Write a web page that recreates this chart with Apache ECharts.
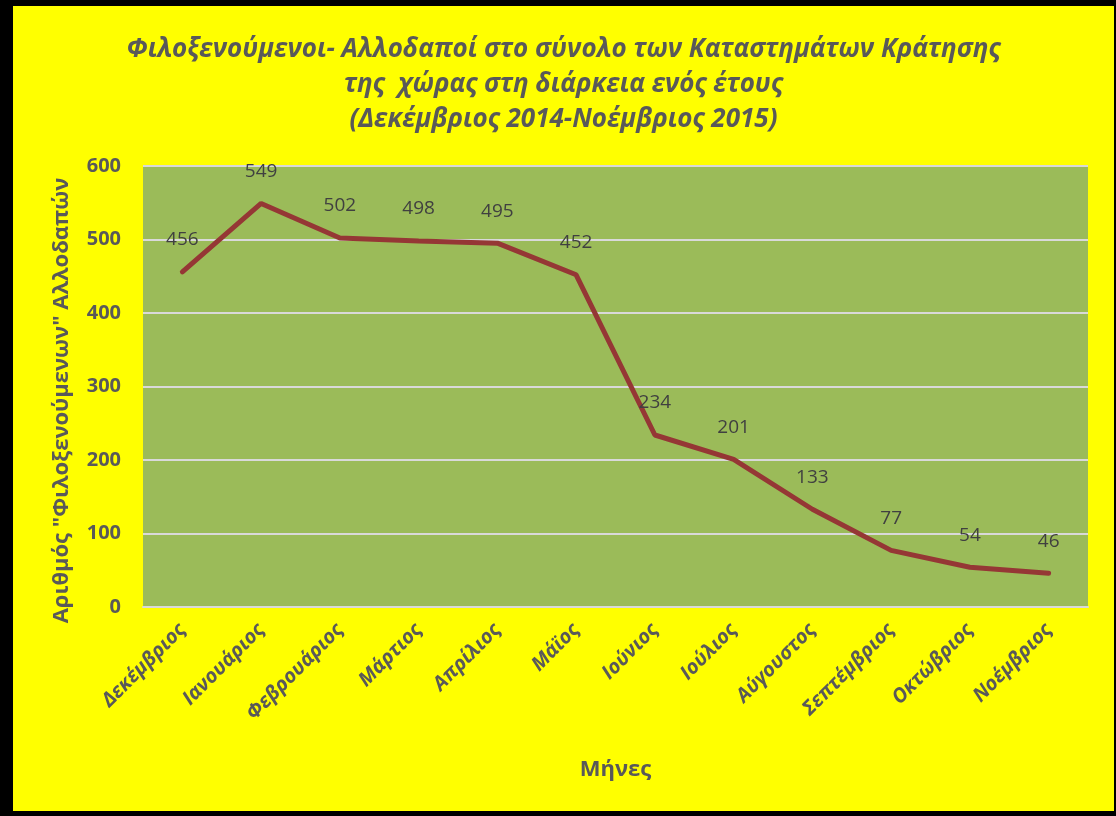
<!DOCTYPE html>
<html>
<head>
<meta charset="utf-8">
<script src="https://cdn.jsdelivr.net/npm/echarts@6/dist/echarts.min.js"></script>
<style>
  html, body {
    margin: 0;
    padding: 0;
    background: #000;
    width: 1116px;
    height: 816px;
    overflow: hidden;
  }
  #chart {
    position: absolute;
    left: 13px;
    top: 6px;
    width: 1101px;
    height: 805px;
    background: #ffff00;
  }
</style>
</head>
<body>
<div id="chart"></div>
<script>
  // μήνες
  var months = ['Δεκέμβριος', 'Ιανουάριος', 'Φεβρουάριος', 'Μάρτιος', 'Απρίλιος', 'Μάϊος',
    'Ιούνιος', 'Ιούλιος', 'Αύγουστος', 'Σεπτέμβριος', 'Οκτώβριος', 'Νοέμβριος'];
  // φιλοξενούμενοι αλλοδαποί
  var guests = [456, 549, 502, 498, 495, 452, 234, 201, 133, 77, 54, 46];
  var yTicks = [0, 100, 200, 300, 400, 500, 600];

  var myChart = echarts.init(document.getElementById('chart'));
  var font = '"Open Sans", "Noto Sans", sans-serif';

  var option = {
    backgroundColor: '#ffff00',
    title: {
      text: 'Φιλοξενούμενοι- Αλλοδαποί στο σύνολο των Καταστημάτων Κράτησης\nτης  χώρας στη διάρκεια ενός έτους\n(Δεκέμβριος 2014-Νοέμβριος 2015)',
      left: 'center',
      top: 21,
      textStyle: {
        color: '#595959',
        fontFamily: font,
        fontSize: 26,
        fontWeight: 'bold',
        fontStyle: 'italic',
        lineHeight: 35
      }
    },
    grid: {
      left: 130,
      right: 26,
      top: 160,
      bottom: 204,
      show: true,
      backgroundColor: '#9bbb59',
      borderWidth: 0
    },
    xAxis: {
      type: 'category',
      data: months,
      boundaryGap: true,
      name: 'Μήνες',
      nameLocation: 'middle',
      nameGap: 152,
      nameTextStyle: {
        color: '#595959',
        fontFamily: font,
        fontSize: 22,
        fontWeight: 'bold'
      },
      axisLine: {lineStyle: {color: '#d9d9d9', width: 2}},
      axisTick: {show: false},
      axisLabel: {
        rotate: 45,
        margin: 20,
        interval: 0,
        color: '#595959',
        fontFamily: font,
        fontSize: 20,
        fontWeight: 'bold',
        fontStyle: 'italic'
      }
    },
    yAxis: {
      type: 'value',
      min: yTicks[0],
      max: yTicks[yTicks.length - 1],
      interval: 100,
      name: 'Αριθμός "Φιλοξενούμενων" Αλλοδαπών',
      nameLocation: 'middle',
      nameGap: 70,
      nameTextStyle: {
        color: '#595959',
        fontFamily: font,
        fontSize: 22,
        fontWeight: 'bold',
        padding: [0, 28, 0, 0]
      },
      axisLine: {show: false},
      axisTick: {show: false},
      axisLabel: {
        margin: 22,
        color: '#595959',
        fontFamily: font,
        fontSize: 20,
        fontWeight: 'bold'
      },
      splitLine: {lineStyle: {color: '#d9d9d9', width: 2}}
    },
    series: [{
      type: 'line',
      data: guests,
      symbol: 'circle',
      symbolSize: 1,
      showSymbol: true,
      itemStyle: {color: '#953735'},
      lineStyle: {color: '#953735', width: 5, cap: 'round'},
      label: {
        show: true,
        position: 'top',
        distance: 22,
        color: '#404040',
        fontFamily: font,
        fontSize: 19
      }
    }]
  };

  myChart.setOption(option);
</script>
</body>
</html>
